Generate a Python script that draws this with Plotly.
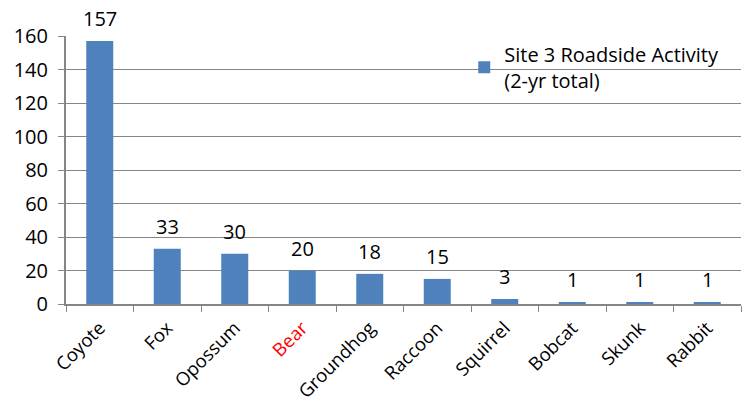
import plotly.graph_objects as go

categories = ["Coyote", "Fox", "Opossum", "Bear", "Groundhog", "Raccoon", "Squirrel", "Bobcat", "Skunk", "Rabbit"]
values = [157, 33, 30, 20, 18, 15, 3, 1, 1, 1]
series_name = "Site 3 Roadside Activity<br>(2-yr total)"
highlight = "Bear"

tick_text = [f"<span style='color:red'>{c}</span>" if c == highlight else c for c in categories]

FONT = "Open Sans"
FS = 20
GRID = "#868686"

fig = go.Figure()
fig.add_trace(go.Bar(
    x=categories, y=values, name=series_name,
    marker=dict(color="#4F81BD", line=dict(width=0)),
    cliponaxis=False, showlegend=True, width=0.4,
))

for c, v in zip(categories, values):
    fig.add_annotation(x=c, y=v, text=str(v), showarrow=False,
                       yanchor="bottom", yshift=7,
                       font=dict(family=FONT, size=FS, color="#000000"))

fig.update_layout(
    width=743, height=404,
    margin=dict(l=66, r=2, t=36, b=100, autoexpand=False),
    paper_bgcolor="white", plot_bgcolor="white",
    font=dict(family=FONT, size=FS, color="#000000"),
    showlegend=True,
    legend=dict(x=0.59, y=1.005, xanchor="left", yanchor="top",
                bgcolor="rgba(0,0,0,0)", font=dict(family=FONT, size=FS),
                itemwidth=30, tracegroupgap=0),
    xaxis=dict(
        tickmode="array", tickvals=categories, ticktext=tick_text,
        tickangle=-45, ticks="outside", tickson="boundaries", ticklen=6,
        tickcolor=GRID, showline=True, linecolor=GRID, linewidth=2,
        showgrid=False, tickfont=dict(family=FONT, size=18.5),
        automargin=False, ticklabelstandoff=4,
    ),
    yaxis=dict(
        range=[0, 160], tickvals=[0, 20, 40, 60, 80, 100, 120, 140, 160],
        ticks="outside", ticklen=6, tickcolor=GRID,
        showline=True, linecolor=GRID, linewidth=2,
        showgrid=True, gridcolor=GRID, gridwidth=1, zeroline=False,
        tickfont=dict(family=FONT, size=FS), automargin=False,
        ticklabelstandoff=6,
    ),
)

fig.write_html("out.html")
